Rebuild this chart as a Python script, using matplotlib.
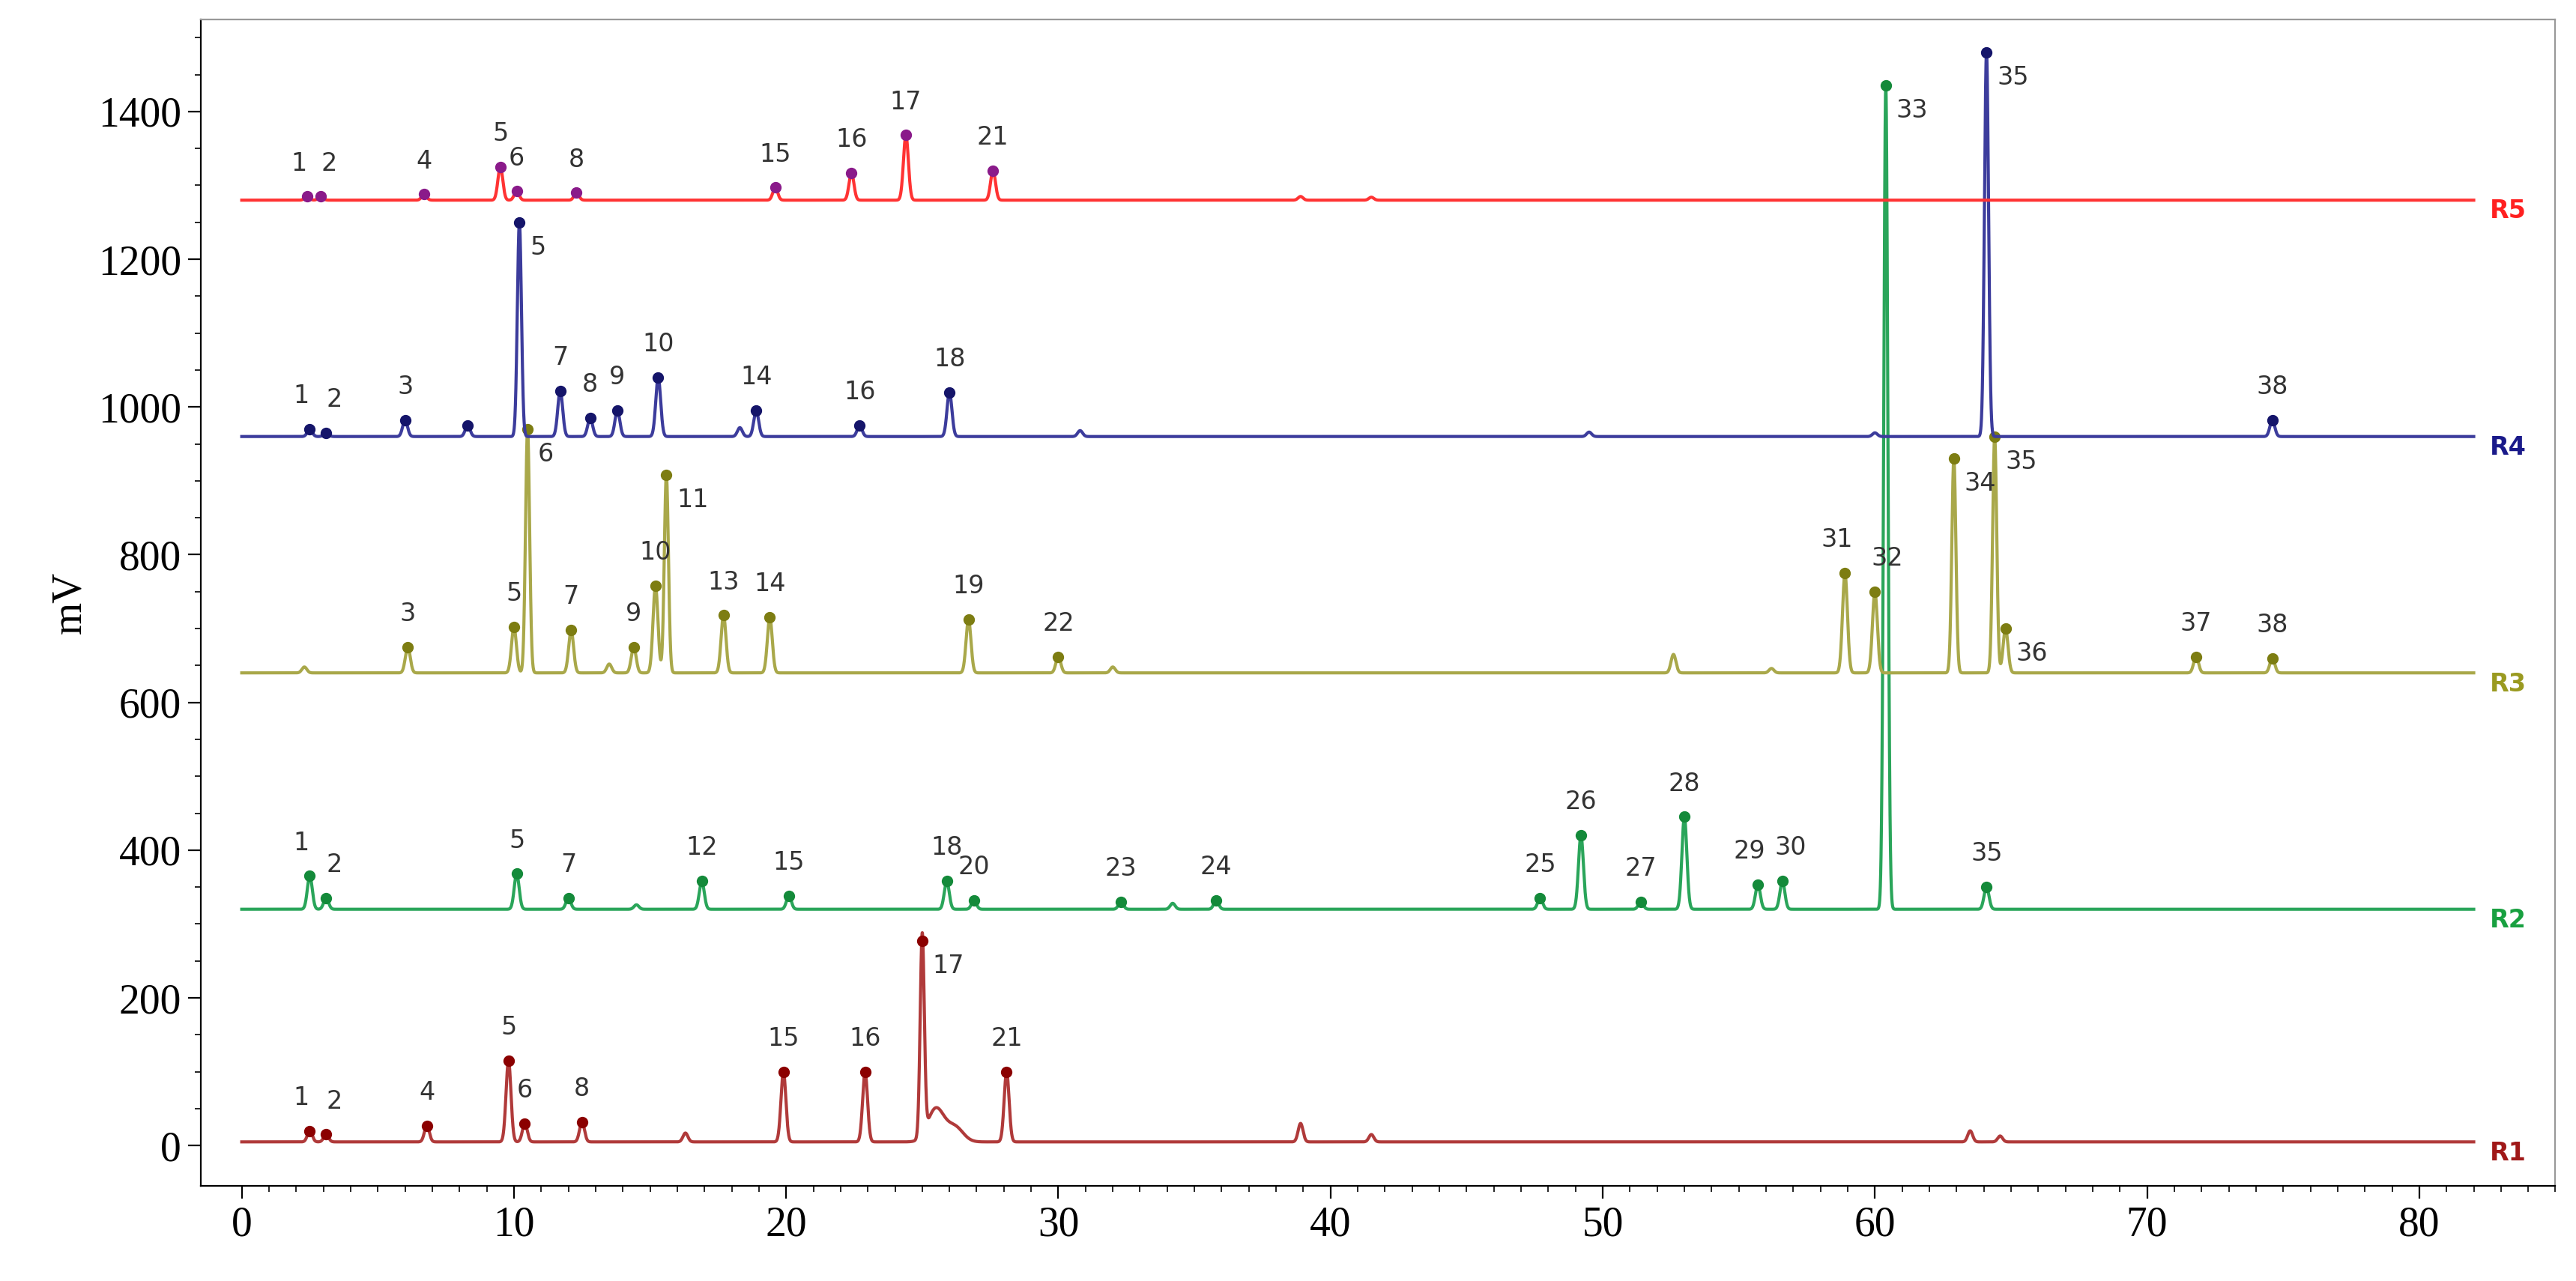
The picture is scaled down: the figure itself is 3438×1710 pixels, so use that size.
import numpy as np
import matplotlib
matplotlib.use("Agg")
import matplotlib.pyplot as plt

# baselines (mV)
series = ["R1", "R2", "R3", "R4", "R5"]
baselines = [5, 320, 640, 960, 1280]

# labelled peaks: retention time (min), height above baseline (mV), label
r1_rt = [2.5, 3.1, 6.8, 9.8, 10.4, 12.5, 19.9, 22.9, 25.0, 28.1]
r1_h = [15, 10, 22, 110, 25, 27, 95, 95, 272, 95]
r1_lab = ["1", "2", "4", "5", "6", "8", "15", "16", "17", "21"]
r1_minor_rt = [16.3, 38.9, 41.5, 63.5, 64.6, 25.5, 26.2]
r1_minor_h = [12, 25, 10, 15, 8, 45, 20]

r2_rt = [2.5, 3.1, 10.1, 12.0, 16.9, 20.1, 25.9, 26.9, 32.3, 35.8, 47.7, 49.2, 51.4, 53.0, 55.7, 56.6, 60.4, 64.1]
r2_h = [45, 15, 48, 15, 38, 18, 38, 12, 10, 12, 15, 100, 10, 125, 33, 38, 1115, 30]
r2_lab = ["1", "2", "5", "7", "12", "15", "18", "20", "23", "24", "25", "26", "27", "28", "29", "30", "33", "35"]
r2_minor_rt = [34.2, 14.5]
r2_minor_h = [8, 6]

r3_rt = [6.1, 10.0, 10.5, 12.1, 14.4, 15.2, 15.6, 17.7, 19.4, 26.7, 30.0, 58.9, 60.0, 62.9, 64.4, 64.8, 71.8, 74.6]
r3_h = [35, 62, 330, 58, 35, 118, 268, 78, 75, 72, 22, 135, 110, 290, 320, 60, 22, 20]
r3_lab = ["3", "5", "6", "7", "9", "10", "11", "13", "14", "19", "22", "31", "32", "34", "35", "36", "37", "38"]
r3_minor_rt = [52.6, 13.5, 2.3, 32.0, 56.2]
r3_minor_h = [25, 12, 8, 8, 6]

r4_rt = [2.5, 3.1, 6.0, 8.3, 10.2, 11.7, 12.8, 13.8, 15.3, 18.9, 22.7, 26.0, 64.1, 74.6]
r4_h = [10, 5, 22, 15, 290, 62, 25, 35, 80, 35, 15, 60, 520, 22]
r4_lab = ["1", "2", "3", "", "5", "7", "8", "9", "10", "14", "16", "18", "35", "38"]
r4_minor_rt = [30.8, 18.3, 49.5, 60.0]
r4_minor_h = [8, 12, 6, 5]

r5_rt = [2.4, 2.9, 6.7, 9.5, 10.1, 12.3, 19.6, 22.4, 24.4, 27.6]
r5_h = [5, 5, 8, 45, 12, 10, 17, 37, 88, 40]
r5_lab = ["1", "2", "4", "5", "6", "8", "15", "16", "17", "21"]
r5_minor_rt = [38.9, 41.5]
r5_minor_h = [5, 4]

peaks = [(r1_rt, r1_h, r1_lab, r1_minor_rt, r1_minor_h),
         (r2_rt, r2_h, r2_lab, r2_minor_rt, r2_minor_h),
         (r3_rt, r3_h, r3_lab, r3_minor_rt, r3_minor_h),
         (r4_rt, r4_h, r4_lab, r4_minor_rt, r4_minor_h),
         (r5_rt, r5_h, r5_lab, r5_minor_rt, r5_minor_h)]

line_colors = ["#b03a3a", "#2aa55a", "#a9a84a", "#3c3c9c", "#ff3333"]
mark_colors = ["#8b0000", "#148a3a", "#7d7d12", "#15156a", "#8a1a8a"]
label_colors = ["#a01818", "#18a040", "#9a9a20", "#1a1a8a", "#ff2020"]
right_labels = {("R3", "6"), ("R3", "11"), ("R2", "33"), ("R4", "35"), ("R4", "5"),
                ("R3", "35"), ("R1", "17"), ("R3", "34"), ("R3", "36")}
left_shift = {"1": -4, "2": 4, "29": -4, "30": 4, "31": -4, "32": 6}

fig = plt.figure(figsize=(17.19, 8.55), dpi=200)
ax = fig.add_axes([0.078, 0.074, 0.914, 0.911])
t = np.linspace(0, 82, 20000)

for i, name in enumerate(series):
    rt, h, lab, mrt, mh = peaks[i]
    y = np.full_like(t, baselines[i], dtype=float)
    for r, hh in zip(list(rt) + list(mrt), list(h) + list(mh)):
        s = 0.09 if hh < 200 else 0.075
        if r in (25.5, 26.2):
            s = 0.3
        y += hh * np.exp(-0.5 * ((t - r) / s) ** 2)
    ax.plot(t, y, color=line_colors[i], lw=1.5)
    for r, hh, l in zip(rt, h, lab):
        top = baselines[i] + hh
        ax.plot(r, top, "o", color=mark_colors[i], ms=4.5)
        if not l:
            continue
        if (name, l) in right_labels:
            ax.annotate(l, (r, top), xytext=(5, -12), textcoords="offset points",
                        fontsize=12, color="#333333", ha="left", va="center")
        else:
            dx = left_shift.get(l, 0)
            ax.annotate(l, (r, top), xytext=(dx, 10), textcoords="offset points",
                        fontsize=12, color="#333333", ha="center", va="bottom")
    ax.text(82.6, baselines[i] - 15, name, color=label_colors[i],
            fontsize=12, fontweight="bold", ha="left", va="center")

ax.set_xlim(-1.5, 85)
ax.set_ylim(-55, 1525)
ax.set_xticks(range(0, 81, 10))
ax.set_xticks(range(0, 86, 1), minor=True)
ax.set_yticks(range(0, 1401, 200))
ax.set_yticks(range(0, 1501, 50), minor=True)
for lbl in ax.get_xticklabels() + ax.get_yticklabels():
    lbl.set_fontfamily("Liberation Serif")
    lbl.set_fontsize(20)
ax.set_ylabel("mV", fontfamily="Liberation Serif", fontsize=20)
ax.tick_params(axis="both", which="major", length=6, direction="out")
ax.tick_params(axis="both", which="minor", length=3, direction="out")
for sp in ["top", "right"]:
    ax.spines[sp].set_color("#999999")
fig.savefig("out.png", dpi=200)
